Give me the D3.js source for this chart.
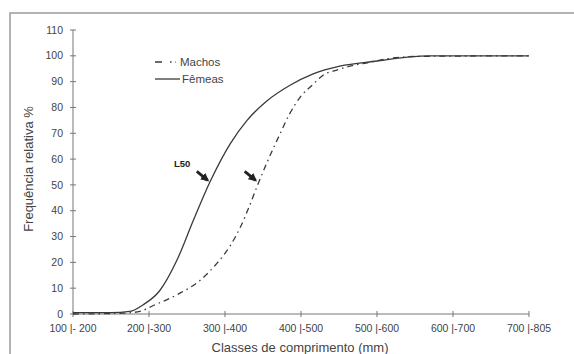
<!DOCTYPE html>
<html>
<head>
<meta charset="utf-8">
<script src="https://cdn.jsdelivr.net/npm/d3@7"></script>
<style>
  body { margin: 0; background: #fff; }
  text { font-family: "Liberation Sans", Arial, sans-serif; fill: #444; }
</style>
</head>
<body>
<div id="chart"></div>
<script>
// class midpoints (mm) and their labels
const classMids = [150, 250, 350, 450, 550, 650, 750];
const classLabels = ['100 |- 200', '200 |-300', '300 |-400', '400 |-500', '500 |-600', '600 |-700', '700 |-805'];
const yTicks = [0, 10, 20, 30, 40, 50, 60, 70, 80, 90, 100, 110];

// cumulative relative frequency (%)
const femeasLen = [150, 200, 225, 242, 264, 287, 308, 330, 357, 379, 405, 435, 466, 501, 550, 590, 620, 750];
const femeasPct = [0.5, 0.5, 1, 3.5, 9, 21, 36, 51, 66, 75, 82.5, 88.5, 93, 96, 98, 99.5, 100, 100];

const machosLen = [150, 215, 238, 255, 287, 317, 339, 357, 370, 381, 393, 405, 422, 435, 449, 466, 479, 497, 514, 541, 567, 607, 750];
const machosPct = [0, 0.3, 1, 3.2, 7.5, 13, 19.5, 26.5, 33.5, 41, 50, 58.5, 69.5, 77.5, 84, 89, 92.5, 94.5, 96, 97.5, 99, 99.8, 100];

const W = 574, H = 354;
const svg = d3.select('#chart').append('svg')
  .attr('width', W)
  .attr('height', H);

// scanned page frame
svg.append('rect')
  .attr('x', 10).attr('y', 13)
  .attr('width', 600).attr('height', 400)
  .attr('fill', 'none')
  .attr('stroke', '#9a9a9a')
  .attr('stroke-width', 1.5);

const x = d3.scaleLinear().domain([150, 750]).range([73, 529]);
const y = d3.scaleLinear().domain([0, 110]).range([314, 30]);

// y axis
const yAxis = svg.append('g');
yAxis.append('line')
  .attr('x1', x(150)).attr('x2', x(150))
  .attr('y1', y(0)).attr('y2', y(110))
  .attr('stroke', '#777').attr('stroke-width', 1);
yAxis.selectAll('line.tk')
  .data(yTicks)
  .join('line')
  .attr('class', 'tk')
  .attr('x1', x(150) - 3).attr('x2', x(150) + 3)
  .attr('y1', d => y(d)).attr('y2', d => y(d))
  .attr('stroke', '#777');
yAxis.selectAll('text')
  .data(yTicks)
  .join('text')
  .attr('x', 63)
  .attr('y', d => y(d))
  .attr('dy', '0.35em')
  .attr('text-anchor', 'end')
  .style('font-size', '10.5px')
  .text(d => d);

// x axis
const xAxis = svg.append('g');
xAxis.append('line')
  .attr('x1', x(150)).attr('x2', x(750))
  .attr('y1', y(0)).attr('y2', y(0))
  .attr('stroke', '#777').attr('stroke-width', 1);
xAxis.selectAll('line.tk')
  .data(classMids)
  .join('line')
  .attr('class', 'tk')
  .attr('x1', d => x(d)).attr('x2', d => x(d))
  .attr('y1', y(0) - 3).attr('y2', y(0) + 3)
  .attr('stroke', '#777');
xAxis.selectAll('text')
  .data(classMids)
  .join('text')
  .attr('x', d => x(d))
  .attr('y', 332)
  .attr('text-anchor', 'middle')
  .style('font-size', '10.5px')
  .text((d, i) => classLabels[i]);

// axis titles
svg.append('text')
  .attr('x', 300).attr('y', 352)
  .attr('text-anchor', 'middle')
  .style('font-size', '13px')
  .text('Classes de comprimento (mm)');
svg.append('text')
  .attr('transform', 'translate(33,169) rotate(-90)')
  .attr('text-anchor', 'middle')
  .style('font-size', '13px')
  .text('Frequência relativa %');

// curves
const line = d3.line()
  .x(d => x(d[0]))
  .y(d => y(d[1]))
  .curve(d3.curveMonotoneX);

svg.append('path')
  .datum(femeasLen.map((v, i) => [v, femeasPct[i]]))
  .attr('d', line)
  .attr('fill', 'none')
  .attr('stroke', '#3a3a3a')
  .attr('stroke-width', 1.3);

svg.append('path')
  .datum(machosLen.map((v, i) => [v, machosPct[i]]))
  .attr('d', line)
  .attr('fill', 'none')
  .attr('stroke', '#3a3a3a')
  .attr('stroke-width', 1.3)
  .attr('stroke-dasharray', '6,4,1.5,4');

// legend
const legend = svg.append('g');
legend.append('line')
  .attr('x1', 155).attr('x2', 176).attr('y1', 62).attr('y2', 62)
  .attr('stroke', '#3a3a3a').attr('stroke-width', 1.3)
  .attr('stroke-dasharray', '7,8,1.5,4');
legend.append('text')
  .attr('x', 180).attr('y', 62).attr('dy', '0.35em')
  .style('font-size', '11.5px')
  .text('Machos');
legend.append('line')
  .attr('x1', 155).attr('x2', 180).attr('y1', 79).attr('y2', 79)
  .attr('stroke', '#3a3a3a').attr('stroke-width', 1.3);
legend.append('text')
  .attr('x', 182).attr('y', 79).attr('dy', '0.35em')
  .style('font-size', '11.5px')
  .text('Fêmeas');

// L50 markers
svg.append('defs').append('marker')
  .attr('id', 'head')
  .attr('viewBox', '0 0 10 10')
  .attr('refX', 8).attr('refY', 5)
  .attr('markerWidth', 3).attr('markerHeight', 3)
  .attr('orient', 'auto')
  .append('path')
  .attr('d', 'M0,0 L10,5 L0,10 z')
  .attr('fill', '#222');

svg.append('text')
  .attr('x', 174).attr('y', 164).attr('dy', '0.35em')
  .style('font-size', '9.5px')
  .style('font-weight', 'bold')
  .style('fill', '#222')
  .text('L50');

const l50 = [[330, 51], [393, 51]];
svg.selectAll('line.arrow')
  .data(l50)
  .join('line')
  .attr('class', 'arrow')
  .attr('x1', d => x(d[0]) - 13).attr('y1', d => y(d[1]) - 11)
  .attr('x2', d => x(d[0]) - 2).attr('y2', d => y(d[1]) - 2)
  .attr('stroke', '#222')
  .attr('stroke-width', 2.8)
  .attr('marker-end', 'url(#head)');
</script>
</body>
</html>
